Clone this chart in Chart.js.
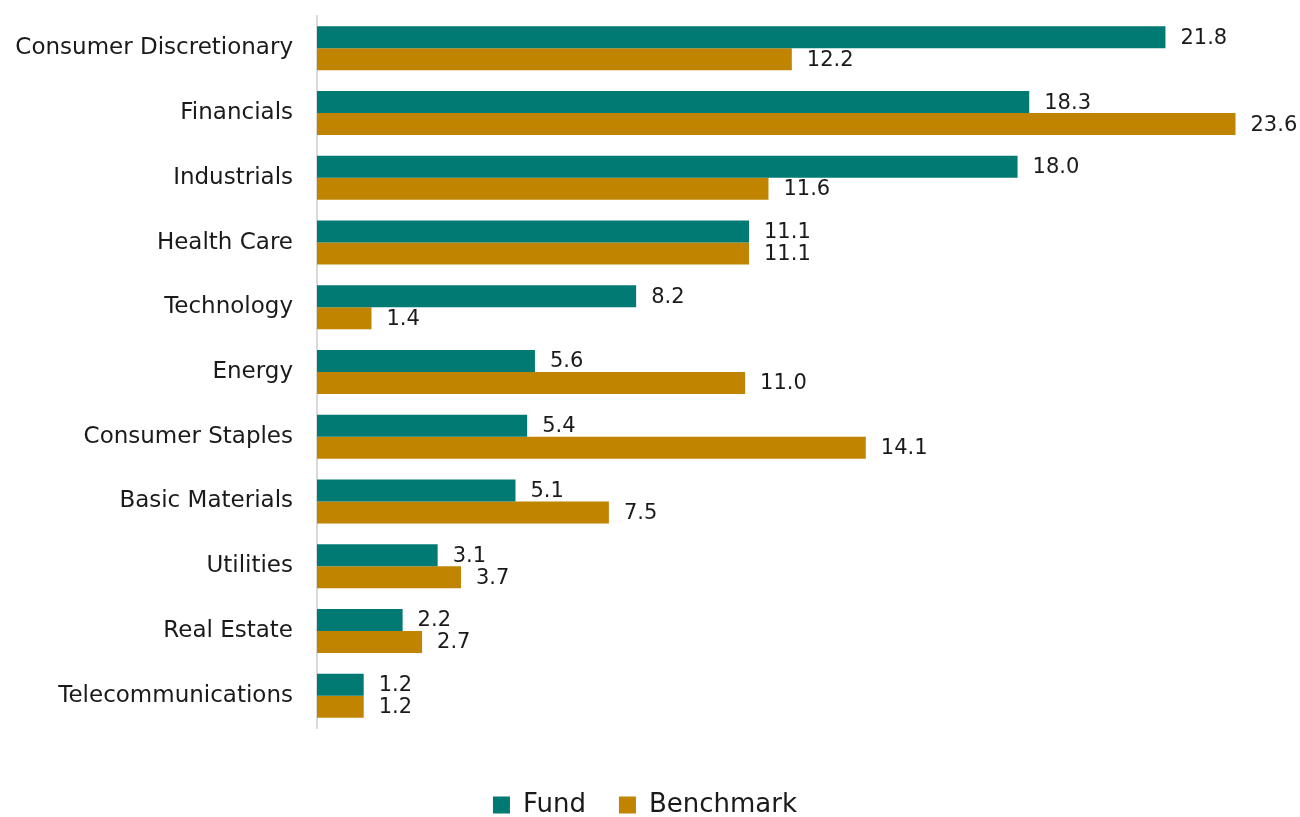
<!DOCTYPE html>
<html>
<head>
<meta charset="utf-8">
<script src="https://cdn.jsdelivr.net/npm/chart.js@4"></script>
<style>
  html, body { margin: 0; padding: 0; background: #fff; }
  #wrap { width: 1300px; height: 817px; position: relative; }
</style>
</head>
<body>
<div id="wrap"><canvas id="chartSectors"></canvas></div>
<script>
// Sector weights (%)
const sectors = [
  'Consumer Discretionary', 'Financials', 'Industrials', 'Health Care',
  'Technology', 'Energy', 'Consumer Staples', 'Basic Materials',
  'Utilities', 'Real Estate', 'Telecommunications'
];
const fundValues = [21.8, 18.3, 18.0, 11.1, 8.2, 5.6, 5.4, 5.1, 3.1, 2.2, 1.2];
const benchmarkValues = [12.2, 23.6, 11.6, 11.1, 1.4, 11.0, 14.1, 7.5, 3.7, 2.7, 1.2];

const FONT = "'DejaVu Sans', sans-serif";

// value labels at the end of each bar
const barLabels = {
  id: 'barLabels',
  afterDatasetsDraw(chart) {
    const ctx = chart.ctx;
    ctx.save();
    ctx.font = '21px ' + FONT;
    ctx.fillStyle = '#1a1a1a';
    ctx.textBaseline = 'middle';
    ctx.textAlign = 'left';
    chart.data.datasets.forEach((ds, i) => {
      chart.getDatasetMeta(i).data.forEach((bar, j) => {
        ctx.fillText(ds.data[j].toFixed(1), bar.x + 15, bar.y + 1);
      });
    });
    ctx.restore();
  }
};

new Chart(document.getElementById('chartSectors').getContext('2d'), {
  type: 'bar',
  data: {
    labels: sectors,
    datasets: [
      { label: 'Fund', data: fundValues, backgroundColor: '#007a73' },
      { label: 'Benchmark', data: benchmarkValues, backgroundColor: '#c08400' }
    ]
  },
  options: {
    indexAxis: 'y',
    responsive: true,
    maintainAspectRatio: false,
    animation: false,
    categoryPercentage: 0.68,
    barPercentage: 1.0,
    layout: { padding: { top: 16, right: 10, left: 0, bottom: -11 } },
    plugins: {
      legend: {
        position: 'bottom',
        labels: {
          font: { family: FONT, size: 26 },
          color: '#1a1a1a',
          boxWidth: 17,
          boxHeight: 17,
          padding: 33
        }
      },
      tooltip: { enabled: false }
    },
    scales: {
      x: {
        min: 0,
        max: 25,
        grid: { display: false },
        border: { display: false },
        ticks: { display: false },
        afterFit(scale) { scale.height = 31; }
      },
      y: {
        grid: { display: false },
        border: { display: true, color: '#d9d9d9', width: 2 },
        ticks: {
          font: { family: FONT, size: 23 },
          color: '#1a1a1a',
          padding: 16
        },
        afterFit(scale) {
          scale.width = 317;
          scale.paddingTop = 0;
          scale.paddingBottom = 0;
        }
      }
    }
  },
  plugins: [barLabels]
});
</script>
</body>
</html>
